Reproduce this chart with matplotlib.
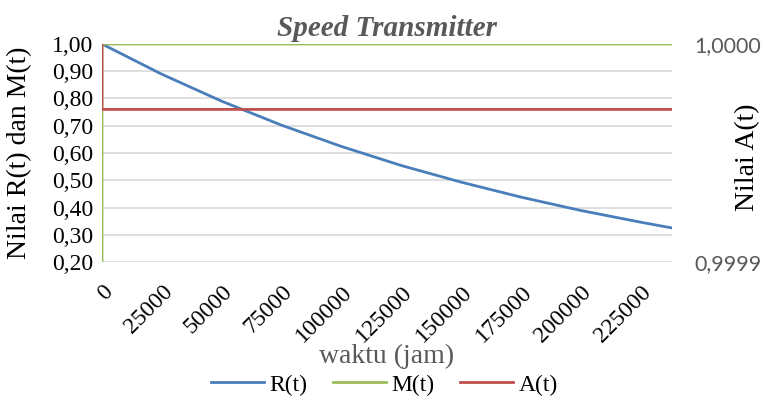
import matplotlib.pyplot as plt
from matplotlib.ticker import FuncFormatter

# waktu (jam)
t = [0, 1, 25000, 50000, 75000, 100000, 125000, 150000, 175000, 200000, 225000, 238000]
R = [1.0, 1.0, 0.889, 0.790, 0.702, 0.624, 0.554, 0.493, 0.438, 0.389, 0.346, 0.325]
M = [0.0, 1.0, 1.0, 1.0, 1.0, 1.0, 1.0, 1.0, 1.0, 1.0, 1.0, 1.0]
A = [1.0, 0.99997, 0.99997, 0.99997, 0.99997, 0.99997, 0.99997, 0.99997,
     0.99997, 0.99997, 0.99997, 0.99997]
x_ticks = [0, 25000, 50000, 75000, 100000, 125000, 150000, 175000, 200000, 225000]

plt.rcParams["font.family"] = ["Liberation Serif", "DejaVu Serif"]
blue, green, red = "#4a7ebb", "#9bbb59", "#c0504d"

fig = plt.figure(figsize=(7.64, 4.01), dpi=100)
ax = fig.add_axes([0.1335, 0.3466, 0.746, 0.5437])
ax2 = ax.twinx()

l1, = ax.plot(t, R, color=blue, lw=2, label="R(t)")
l2, = ax.plot(t, M, color=green, lw=2, label="M(t)")
l3, = ax2.plot(t, A, color=red, lw=2, label="A(t)")

ax.set_xlim(0, 238000)
ax.set_ylim(0.2, 1.0)
ax2.set_ylim(0.9999, 1.0)
ax.set_yticks([0.2 + 0.1 * i for i in range(9)])
ax2.set_yticks([0.9999, 1.0])
ax.set_xticks(x_ticks)

ax.yaxis.set_major_formatter(FuncFormatter(lambda v, p: f"{v:.2f}".replace(".", ",")))
ax2.yaxis.set_major_formatter(FuncFormatter(lambda v, p: f"{v:.4f}".replace(".", ",")))

ax.grid(axis="y", color="#d9d9d9", lw=1.2)
ax.set_axisbelow(True)
for a in (ax, ax2):
    for s in a.spines.values():
        s.set_visible(False)
    a.tick_params(length=0)

ax.tick_params(axis="y", labelsize=17, pad=6)
ax.set_xticklabels([str(v) for v in x_ticks], rotation=45, ha="right",
                   rotation_mode="anchor", fontsize=17)
ax.tick_params(axis="x", pad=14)
ax2.tick_params(axis="y", labelsize=15.5, labelcolor="#595959", pad=16)
for lab in ax2.get_yticklabels():
    lab.set_family("Lato")

ax.set_ylabel("Nilai R(t) dan M(t)", fontsize=20)
ax.yaxis.set_label_coords(-0.123, 0.5)
ax2.set_ylabel("Nilai A(t)", fontsize=20)
ax2.yaxis.set_label_coords(1.11, 0.48)
ax.set_xlabel("waktu (jam)", fontsize=20, color="#595959", labelpad=-2)
ax.set_title("Speed Transmitter", fontsize=21, fontweight="bold",
             style="italic", color="#595959", pad=6)

fig.legend(handles=[l1, l2, l3], loc="center", bbox_to_anchor=(0.503, 0.04), ncol=3,
           frameon=False, prop={"size": 17}, handlelength=2.25,
           columnspacing=1.05, handletextpad=0.25)

fig.savefig("out.png", dpi=100)
